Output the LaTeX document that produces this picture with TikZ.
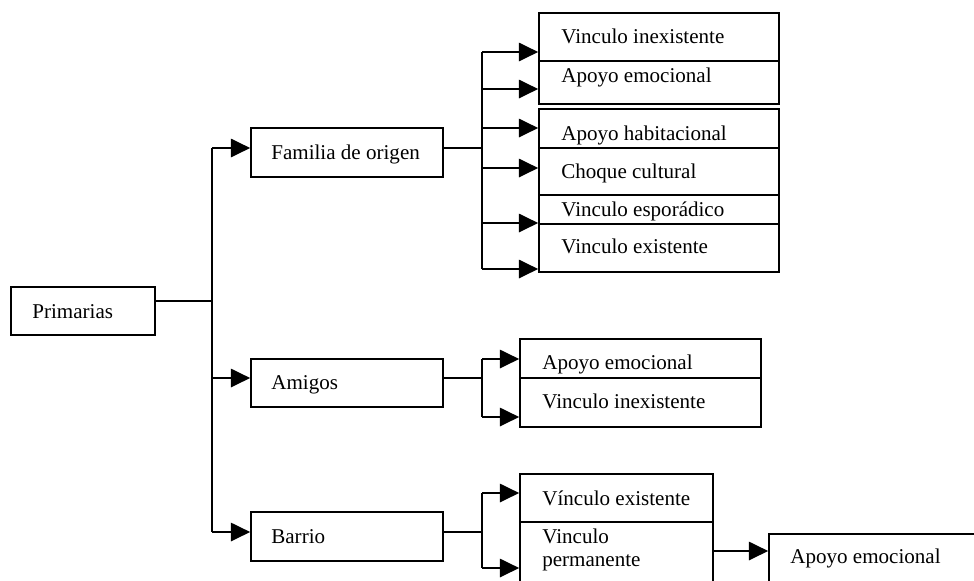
\documentclass[tikz,border=0pt]{standalone}
\usepackage{fontspec}
\setmainfont{Liberation Serif}
\usetikzlibrary{arrows.meta}
\usetikzlibrary{fit}

\begin{document}
\begin{tikzpicture}[x = 0.57pt, y = -0.57pt]
\tikzstyle{BoxStyle}=[shape = rectangle,
                      inner sep = 0pt,
                      line width = 0.95pt,
                      draw]
\tikzstyle{TextStyle}=[anchor = base west,
                       inner sep = 0pt,
                       font = \fontsize{12}{12.6}\selectfont]
\tikzstyle{LineStyle}=[line width = 0.95pt]
\tikzstyle{ArrowStyle}=[line width = 0.95pt,
                        -{Triangle[length = 11pt, width = 10.5pt]}]
\useasboundingbox (0,0) rectangle (974,580);
\clip (0,0) rectangle (974,580);
% first level
\node[BoxStyle, fit = {(11,287) (155,335)}] (prim) {};
\node[TextStyle] (tprim) at (32,318) {Primarias};
\node[BoxStyle, fit = {(251,128) (443,177)}] (fam) {};
\node[TextStyle] (tfam) at (271,159) {Familia de origen};
\node[BoxStyle, fit = {(251,359) (443,407)}] (ami) {};
\node[TextStyle] (tami) at (271,389) {Amigos};
\node[BoxStyle, fit = {(251,512) (443,561)}] (bar) {};
\node[TextStyle] (tbar) at (271,543) {Barrio};
% familia de origen
\node[BoxStyle, fit = {(539,13) (779,61)}] (f1) {};
\node[TextStyle] (tf1) at (561,43) {Vinculo inexistente};
\node[BoxStyle, fit = {(539,61) (779,104)}] (f2) {};
\node[TextStyle] (tf2) at (561,82) {Apoyo emocional};
\node[BoxStyle, fit = {(539,109) (779,148)}] (f3) {};
\node[TextStyle] (tf3) at (561,140) {Apoyo habitacional};
\node[BoxStyle, fit = {(539,148) (779,195)}] (f4) {};
\node[TextStyle] (tf4) at (561,178) {Choque cultural};
\node[BoxStyle, fit = {(539,195) (779,224)}] (f5) {};
\node[TextStyle] (tf5) at (561,216) {Vinculo esporádico};
\node[BoxStyle, fit = {(539,224) (779,272)}] (f6) {};
\node[TextStyle] (tf6) at (561,253) {Vinculo existente};
% amigos
\node[BoxStyle, fit = {(520,339) (761,378)}] (a1) {};
\node[TextStyle] (ta1) at (542,369) {Apoyo emocional};
\node[BoxStyle, fit = {(520,378) (761,427)}] (a2) {};
\node[TextStyle] (ta2) at (542,408) {Vinculo inexistente};
% barrio
\node[BoxStyle, fit = {(520,474) (713,522)}] (b1) {};
\node[TextStyle] (tb1) at (542,505) {Vínculo existente};
\node[BoxStyle, fit = {(520,522) (713,600)}] (b2) {};
\node[TextStyle, anchor = north west, align = left] (tb2) at (542,529) {Vinculo\\permanente};
\node[BoxStyle, fit = {(769,534) (990,600)}] (c1) {};
\node[TextStyle] (tc1) at (790,563) {Apoyo emocional};
% branch points
\coordinate (t0) at (212,301);
\coordinate (tf) at (212,148);
\coordinate (ta) at (212,378);
\coordinate (tb) at (212,532);
\coordinate (jf) at (482,148);
\coordinate (pf1) at (482,52);
\coordinate (pf2) at (482,89);
\coordinate (pf3) at (482,128);
\coordinate (pf4) at (482,168);
\coordinate (pf5) at (482,223);
\coordinate (pf6) at (482,269);
\coordinate (ja) at (482,378);
\coordinate (pa1) at (482,359);
\coordinate (pa2) at (482,417);
\coordinate (jb) at (482,532);
\coordinate (pb1) at (482,493);
\coordinate (pb2) at (482,568);
\coordinate (pc) at (740,551);
% connectors
\draw[LineStyle] (prim.east |- t0) -- (t0);
\draw[LineStyle] (tf) -- (tb);
\draw[ArrowStyle] (tf) -- (tf -| fam.west);
\draw[ArrowStyle] (ta) -- (ta -| ami.west);
\draw[ArrowStyle] (tb) -- (tb -| bar.west);
\draw[LineStyle] (fam.east |- jf) -- (jf);
\draw[LineStyle] (pf1) -- (pf6);
\draw[ArrowStyle] (pf1) -- (pf1 -| f1.west);
\draw[ArrowStyle] (pf2) -- (pf2 -| f2.west);
\draw[ArrowStyle] (pf3) -- (pf3 -| f3.west);
\draw[ArrowStyle] (pf4) -- (pf4 -| f4.west);
\draw[ArrowStyle] (pf5) -- (pf5 -| f5.west);
\draw[ArrowStyle] (pf6) -- (pf6 -| f6.west);
\draw[LineStyle] (ami.east |- ja) -- (ja);
\draw[LineStyle] (pa1) -- (pa2);
\draw[ArrowStyle] (pa1) -- (pa1 -| a1.west);
\draw[ArrowStyle] (pa2) -- (pa2 -| a2.west);
\draw[LineStyle] (bar.east |- jb) -- (jb);
\draw[LineStyle] (pb1) -- (pb2);
\draw[ArrowStyle] (pb1) -- (pb1 -| b1.west);
\draw[ArrowStyle] (pb2) -- (pb2 -| b2.west);
\draw[ArrowStyle] (b2.east |- pc) -- (pc -| c1.west);
\end{tikzpicture}
\end{document}
